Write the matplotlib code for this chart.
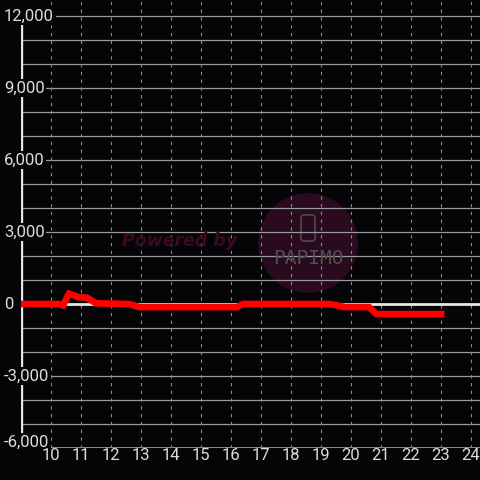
import matplotlib.pyplot as plt
from matplotlib.patches import Circle, FancyBboxPatch

# Data (hour of day, value)
hours = [9.0, 10.25, 10.4, 10.6, 10.9, 11.2, 11.5, 12.6, 12.95, 16.2, 16.4,
         19.3, 19.8, 20.6, 20.85, 23.0]
values = [0, 0, -60, 430, 290, 260, 30, 0, -130, -130, 0,
          0, -130, -130, -420, -420]

x_ticks = list(range(10, 25))
y_ticks = [12000, 9000, 6000, 3000, 0, -3000, -6000]
y_labels = ['12,000', '9,000', '6,000', '3,000', '0', '-3,000', '-6,000']

bg = '#050407'
txt = '#dddddd'
plt.rcParams['font.family'] = ['Roboto', 'DejaVu Sans']

fig = plt.figure(figsize=(4.8, 4.8), dpi=100, facecolor=bg)
ax = fig.add_axes([21 / 480, 32 / 480, 459 / 480, 448 / 480])
ax.set_facecolor(bg)
ax.set_xlim(9.0, 24.3)
ax.set_ylim(-6000, 12667)
for s in ax.spines.values():
    s.set_visible(False)
ax.set_xticks([])
ax.set_yticks([])

# grid
for v in range(-5000, 12001, 1000):
    if v != 0:
        ax.axhline(v, color='#9a9a9a', lw=0.9, zorder=1)
ax.axhline(-6000, color='#9a9a9a', lw=1.3, zorder=1)
for h in x_ticks:
    ax.axvline(h, ymin=0, ymax=1, color='#8a8a8a', lw=0.8, ls=(0, (3, 4)), zorder=1)
ax.axhline(0, color='#e6e6e6', lw=2, zorder=2)
ax.axvline(9.0, ymin=(-5500 + 6000) / 18667, ymax=(11667 + 6000) / 18667,
           color='#e6e6e6', lw=2.4, zorder=2)

# watermark
ax.add_patch(Circle((308, 480 - 243), 50, transform=None, color='#3a0d28',
                    alpha=0.7, zorder=0.5, lw=0))
ax.add_patch(FancyBboxPatch((301, 480 - 241), 14, 26, boxstyle='round,pad=0,rounding_size=3',
                            transform=None, fill=False, ec='#505050', lw=1.1, zorder=0.6))
fig.text(180 / 480, 1 - 241 / 480, 'Powered by', color='#3a0a20', fontsize=12.5,
         fontweight='bold', fontstyle='italic', fontfamily='DejaVu Sans',
         ha='center', va='center', zorder=0.6)
fig.text(308 / 480, 1 - 258 / 480, 'PAPIMO', color='#505050', fontsize=14,
         fontfamily='DejaVu Sans Mono', ha='center', va='center', zorder=0.6)

# data line
ax.plot(hours, values, color='#ff0000', lw=4.8, solid_joinstyle='miter', zorder=3)

# labels
for v, lab in zip(y_ticks, y_labels):
    yy = v if v != -6000 else -5750
    ax.text(8.43, yy, lab, color=txt, fontsize=12, ha='left', va='center',
            clip_on=False, zorder=4,
            bbox=dict(boxstyle='square,pad=0.1', fc=bg, ec='none'))
for h in x_ticks:
    ax.text(h, -6330, str(h), color=txt, fontsize=12, ha='center', va='center',
            clip_on=False, zorder=5)

fig.savefig('out.png', dpi=100, facecolor=bg)
